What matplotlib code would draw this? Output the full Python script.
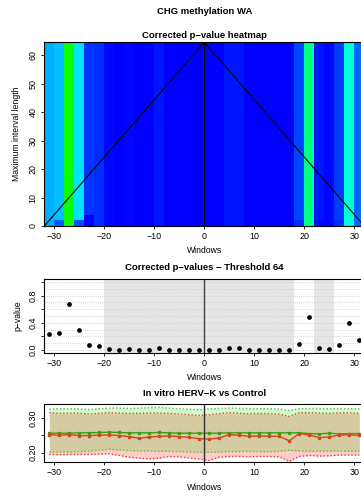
import numpy as np
import matplotlib
matplotlib.use("Agg")
import matplotlib.pyplot as plt
from matplotlib.colors import LinearSegmentedColormap

plt.rcParams["font.family"] = ["Liberation Sans", "DejaVu Sans"]
plt.rcParams["font.size"] = 6.4

# window centres (each window spans 2 units)
windows = [-31, -29, -27, -25, -23, -21, -19, -17, -15, -13, -11, -9, -7, -5, -3, -1,
           1, 3, 5, 7, 9, 11, 13, 15, 17, 19, 21, 23, 25, 27, 29, 31]

# corrected p-values at threshold 64
pvals = [0.23, 0.25, 0.68, 0.30, 0.07, 0.06, 0.01, 0.00, 0.01, 0.00, 0.00, 0.03, 0.00, 0.00, 0.00, 0.00,
         0.00, 0.00, 0.03, 0.03, 0.00, 0.00, 0.00, 0.00, 0.00, 0.09, 0.49, 0.03, 0.01, 0.08, 0.39, 0.14]

# heatmap rows for short interval lengths (0-2 and 2-4)
pvals_len2 = [0.23, 0.12, 0.68, 0.10, 0.00, 0.06, 0.01, 0.00, 0.01, 0.00, 0.00, 0.03, 0.00, 0.00, 0.00, 0.00,
              0.00, 0.00, 0.03, 0.03, 0.00, 0.00, 0.00, 0.00, 0.00, 0.06, 0.49, 0.01, 0.01, 0.06, 0.39, 0.14]
pvals_len4 = [0.23, 0.25, 0.68, 0.30, 0.00, 0.06, 0.01, 0.00, 0.01, 0.00, 0.00, 0.03, 0.00, 0.00, 0.00, 0.00,
              0.00, 0.00, 0.03, 0.03, 0.00, 0.00, 0.00, 0.00, 0.00, 0.09, 0.49, 0.03, 0.01, 0.08, 0.39, 0.14]
max_len = 64

sig_regions = [(-20, 18), (22, 26)]

# in vitro HERV-K vs control: mean methylation and bounds
green_mean = [0.256, 0.256, 0.256, 0.257, 0.257, 0.258, 0.259, 0.258, 0.257, 0.257, 0.257, 0.258, 0.257, 0.256, 0.256, 0.256,
              0.256, 0.256, 0.257, 0.257, 0.257, 0.257, 0.257, 0.257, 0.257, 0.257, 0.255, 0.254, 0.256, 0.254, 0.255, 0.255]
red_mean = [0.252, 0.250, 0.252, 0.249, 0.249, 0.250, 0.251, 0.249, 0.246, 0.241, 0.245, 0.247, 0.248, 0.246, 0.244, 0.240,
            0.239, 0.242, 0.252, 0.250, 0.247, 0.248, 0.247, 0.247, 0.234, 0.255, 0.251, 0.243, 0.245, 0.251, 0.251, 0.250]
green_hi = [0.325, 0.326, 0.326, 0.325, 0.324, 0.326, 0.328, 0.328, 0.327, 0.328, 0.329, 0.330, 0.328, 0.326, 0.325, 0.323,
            0.326, 0.327, 0.328, 0.327, 0.327, 0.326, 0.326, 0.325, 0.321, 0.326, 0.327, 0.327, 0.326, 0.327, 0.326, 0.326]
red_hi = [0.315, 0.313, 0.314, 0.313, 0.311, 0.313, 0.315, 0.314, 0.313, 0.313, 0.314, 0.314, 0.313, 0.311, 0.309, 0.307,
          0.309, 0.312, 0.315, 0.313, 0.312, 0.313, 0.312, 0.311, 0.304, 0.315, 0.315, 0.314, 0.313, 0.314, 0.315, 0.313]
green_lo = [0.202, 0.202, 0.202, 0.203, 0.205, 0.207, 0.210, 0.208, 0.206, 0.205, 0.205, 0.204, 0.204, 0.203, 0.202, 0.201,
            0.201, 0.202, 0.203, 0.203, 0.204, 0.203, 0.203, 0.204, 0.207, 0.205, 0.204, 0.204, 0.205, 0.205, 0.204, 0.204]
red_lo = [0.195, 0.194, 0.195, 0.195, 0.195, 0.196, 0.197, 0.192, 0.187, 0.184, 0.182, 0.184, 0.189, 0.188, 0.185, 0.181,
          0.178, 0.187, 0.189, 0.189, 0.188, 0.189, 0.189, 0.188, 0.175, 0.189, 0.192, 0.190, 0.191, 0.193, 0.193, 0.193]

W, H = 361, 497
fig = plt.figure(figsize=(W / 100, H / 100), dpi=100)


def px_axes(left, top, right, bottom):
    return fig.add_axes([left / W, 1 - bottom / H, (right - left) / W, (bottom - top) / H])


def style(ax):
    for s in ax.spines.values():
        s.set_linewidth(0.8)
        s.set_color("black")
    ax.tick_params(length=2.5, width=0.6, pad=2, labelsize=6.4)
    ax.tick_params(axis="y", pad=2.5)
    ax.set_xlim(-32, 32)
    ax.set_xticks([-30, -20, -10, 0, 10, 20, 30])


def rot_ylabels(ax, labels):
    ax.set_yticklabels(labels, rotation=90, va="center")


cx = 204.3 / W
fig.text(cx, 1 - 12 / H, "CHG methylation WA", ha="center", va="center", fontsize=6.8, fontweight="bold")

# ---- heatmap ----
ax1 = px_axes(44.3, 42.3, 364.3, 226)
cmap = LinearSegmentedColormap.from_list("pv", ["#0000ff", "#00ffff", "#00ff00", "#ffff00"])
xe = [w - 1 for w in windows] + [windows[-1] + 1]
ye = [0, 2, 4, max_len + 0.5]
Z = np.array([pvals_len2, pvals_len4, pvals])
ax1.pcolormesh(xe, ye, Z, cmap=cmap, vmin=0, vmax=1, shading="flat")
ax1.plot([-32, 0, 32], [0, max_len + 0.5, 0], color="black", lw=0.8)
ax1.plot([0, 0], [0, max_len + 0.5], color="black", lw=0.8)
ax1.set_ylim(0, max_len + 0.5)
style(ax1)
ax1.set_yticks([0, 10, 20, 30, 40, 50, 60])
rot_ylabels(ax1, ["0", "10", "20", "30", "40", "50", "60"])
fig.text(cx, 1 - 35 / H, "Corrected p\u2212value heatmap", ha="center", va="center", fontsize=6.8, fontweight="bold")
fig.text(cx, 1 - 250.7 / H, "Windows", ha="center", va="center", fontsize=6.2)
fig.text(17 / W, 1 - 134 / H, "Maximum interval length", ha="center", va="center", rotation=90, fontsize=6.2)

# ---- corrected p-values ----
ax2 = px_axes(44.3, 279.3, 364.3, 352.7)
for a, b in sig_regions:
    ax2.axvspan(a, b, color="#e5e5e5", lw=0, zorder=0)
for lv in np.linspace(0, 1, 11):
    ax2.axhline(lv, color="#d2d2d2", lw=0.7, ls=(0, (1, 1.2)), zorder=1)
ax2.axvline(0, color="#404040", lw=1.0, zorder=2)
ax2.plot(windows, pvals, "o", color="black", ms=2.4, zorder=3)
ax2.set_ylim(-0.04, 1.04)
style(ax2)
ax2.set_yticks([0, 0.2, 0.4, 0.6, 0.8, 1.0])
rot_ylabels(ax2, ["0.0", "", "0.4", "", "0.8", ""])
fig.text(cx, 1 - 267.3 / H, "Corrected p\u2212values \u2212 Threshold 64", ha="center", va="center",
         fontsize=6.8, fontweight="bold")
fig.text(cx, 1 - 377.7 / H, "Windows", ha="center", va="center", fontsize=6.2)
fig.text(18 / W, 1 - 316 / H, "p\u2212value", ha="center", va="center", rotation=90, fontsize=6.2)

# ---- HERV-K vs control ----
ax3 = px_axes(44.3, 404.3, 364.3, 461.7)
ax3.fill_between(windows, green_lo, green_hi, color="#00ff00", alpha=0.2, lw=0)
ax3.fill_between(windows, red_lo, red_hi, color="#ff0000", alpha=0.2, lw=0)
ax3.plot(windows, green_hi, color="#6cc04a", lw=1.1, ls=(0, (1, 1.3)))
ax3.plot(windows, green_lo, color="#6cc04a", lw=1.1, ls=(0, (1, 1.3)))
ax3.plot(windows, red_hi, color="#ee3a2a", lw=1.0, ls=(0, (1, 1.5)))
ax3.plot(windows, red_lo, color="#ee3a2a", lw=1.0, ls=(0, (1, 1.5)))
ax3.plot(windows, green_mean, color="#3a9e12", lw=1.0, marker="s", ms=1.4)
ax3.plot(windows, red_mean, color="#d2441a", lw=1.0, marker="s", ms=1.4)
ax3.axvline(0, color="#303030", lw=1.0)
ax3.set_ylim(0.174, 0.339)
style(ax3)
ax3.set_yticks([0.20, 0.25, 0.30])
rot_ylabels(ax3, ["0.20", "", "0.30"])
fig.text(cx, 1 - 394 / H, "In vitro HERV\u2212K vs Control", ha="center", va="center", fontsize=6.8, fontweight="bold")
fig.text(cx, 1 - 488 / H, "Windows", ha="center", va="center", fontsize=6.2)

fig.savefig("out.png", dpi=100)
